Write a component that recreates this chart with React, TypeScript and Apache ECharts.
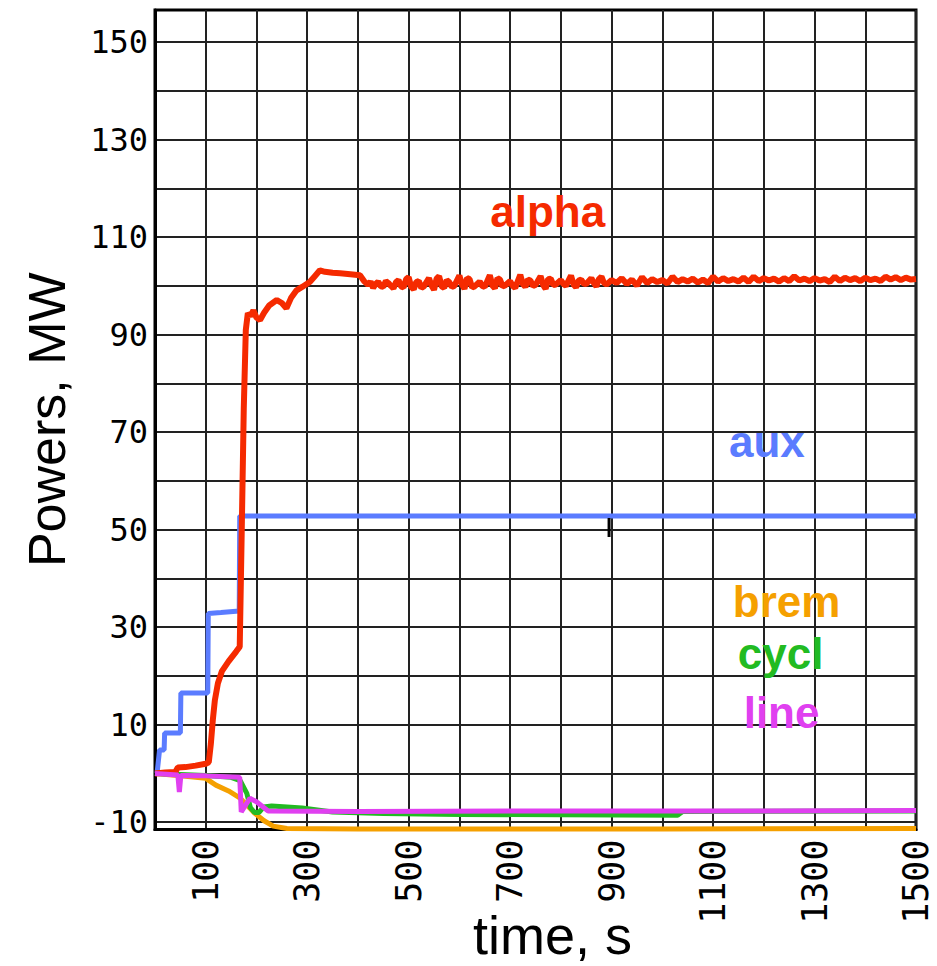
import React, { useEffect, useRef } from "react";
import * as echarts from "echarts";

// time (s), power (MW)
const alphaData: [number, number][] = [
  [0, 0], [20, 0.2], [40, 0.3], [45, 1.2], [60, 1.3], [80, 1.6], [100, 2.0], [106, 2.3],
  [110, 6], [114, 11], [118, 15], [124, 18.5], [132, 21], [145, 23], [160, 25], [167, 26],
  [171, 50], [175, 75], [179, 91], [183, 94.4], [188, 93.8], [194, 95.0], [200, 93.5],
  [207, 93.0], [215, 94.5], [225, 96.0], [240, 97.1], [250, 96.5], [259, 95.4], [268, 97.5],
  [279, 99.1], [290, 99.8], [305, 100.8], [315, 102.0], [325, 103.2], [335, 102.9],
  [350, 102.7], [365, 102.6], [385, 102.4], [404, 102.2], [412, 101.0],
  [420, 100.2], [425, 100.9], [430, 99.6], [435, 100.4], [440, 100.9], [445, 99.9], [450, 99.8],
  [455, 101.0], [460, 100.6], [465, 100.0], [470, 99.5], [475, 100.8],
  [480, 101.2], [485, 99.9], [490, 99.7], [495, 101.4], [500, 101.8], [505, 99.8], [510, 99.3],
  [515, 100.8], [520, 101.0], [525, 99.6], [530, 99.9],
  [540, 101.6], [545, 100.1], [550, 99.2], [555, 101.5], [560, 102.0], [565, 99.9], [570, 99.6],
  [575, 101.2], [580, 100.8], [585, 99.8], [590, 100.0],
  [600, 102.1], [605, 100.3], [610, 99.4], [615, 101.6], [620, 101.4], [625, 99.7], [630, 99.9],
  [640, 100.9], [645, 100.0], [650, 99.8],
  [660, 102.2], [665, 100.1], [670, 99.5], [675, 101.6], [680, 101.3], [685, 99.9], [690, 100.1],
  [700, 101.0], [705, 100.0], [710, 99.6],
  [720, 102.3], [725, 100.4], [730, 99.8], [735, 101.3], [740, 101.1], [745, 100.0], [750, 100.2],
  [760, 102.0], [765, 100.2], [770, 99.4], [775, 101.4],
  [780, 101.5], [785, 100.2], [790, 100.3], [800, 101.2], [805, 100.4], [810, 100.0],
  [820, 102.1], [825, 100.3], [830, 99.7], [835, 101.1],
  [840, 101.3], [845, 100.5], [850, 100.4], [860, 101.6], [865, 100.6], [870, 99.9], [875, 101.4],
  [880, 101.9], [885, 100.6], [890, 100.3],
  [900, 101.2], [910, 100.6], [920, 101.6], [930, 100.4], [940, 101.3], [950, 100.1],
  [960, 101.8], [970, 100.6], [980, 101.4], [990, 100.8], [1000, 101.2], [1010, 100.5],
  [1020, 101.9], [1030, 100.8], [1040, 101.4], [1050, 100.9], [1060, 101.5], [1070, 100.7],
  [1080, 101.3], [1090, 100.6], [1100, 101.9], [1110, 100.9], [1120, 101.6], [1130, 101.0],
  [1140, 101.4], [1150, 100.9], [1160, 101.7], [1170, 100.8], [1180, 101.9], [1190, 101.0],
  [1200, 101.6], [1210, 101.1], [1220, 101.5], [1230, 100.9], [1240, 101.6], [1250, 101.0],
  [1260, 102.0], [1270, 101.1], [1280, 101.5], [1290, 101.0], [1300, 101.6], [1310, 101.1],
  [1320, 101.4], [1330, 100.8], [1340, 101.9], [1350, 101.0], [1360, 101.7], [1370, 101.2],
  [1380, 101.6], [1390, 101.0], [1400, 101.7], [1410, 101.2], [1420, 101.5], [1430, 101.0],
  [1440, 101.9], [1450, 101.3], [1460, 101.8], [1470, 101.2], [1480, 101.7], [1490, 101.3],
  [1500, 101.4],
];

const auxData: [number, number][] = [
  [0, 0], [4, 0], [9, 4.8], [18, 4.8], [19, 8.3], [50, 8.3], [51, 16.5], [104, 16.5],
  [105, 32.8], [130, 33.0], [166, 33.3], [167, 52.8], [1500, 52.8],
];

const bremData: [number, number][] = [
  [0, 0], [50, -0.5], [100, -1.0], [120, -2.4], [145, -3.6], [167, -5.0], [182, -6.6],
  [197, -8.2], [215, -9.7], [233, -10.8], [260, -11.3], [400, -11.4], [700, -11.4],
  [1000, -11.4], [1500, -11.3],
];

const cyclData: [number, number][] = [
  [0, 0], [100, -0.4], [150, -0.8], [168, -1.5], [181, -4.1], [188, -7.0], [196, -8.0],
  [205, -8.0], [214, -6.9], [230, -6.7], [290, -7.1], [350, -7.9], [450, -8.2],
  [600, -8.4], [800, -8.5], [1030, -8.6], [1040, -7.8], [1500, -7.7],
];

const lineData: [number, number][] = [
  [0, 0], [45, -0.3], [48, -3.8], [51, -0.4], [100, -0.5], [167, -0.8], [170, -7.9],
  [187, -5.1], [200, -5.8], [223, -7.7], [400, -7.8], [800, -7.7], [1200, -7.7], [1500, -7.6],
];

const cursorMark: [number, number][] = [[895, 52.4], [895, 48.5]];

const xLabelValues = [100, 300, 500, 700, 900, 1100, 1300, 1500];
const yLabelValues = [-10, 10, 30, 50, 70, 90, 110, 130, 150];
const yGridValues = [-10, 0, 10, 20, 30, 40, 50, 60, 70, 80, 90, 100, 110, 120, 130, 140, 150];

// series label anchors [time, power]
const labelSpots: { name: string; at: [number, number]; color: string }[] = [
  { name: "alpha", at: [774, 115.2], color: "#f52a00" },
  { name: "aux", at: [1206, 68.1], color: "#5b7cff" },
  { name: "brem", at: [1245, 35.2], color: "#f5a000" },
  { name: "cycl", at: [1233, 24.7], color: "#22bb22" },
  { name: "line", at: [1235, 12.6], color: "#e040f0" },
];

const COLORS = {
  alpha: "#f52a00",
  aux: "#5b7cff",
  brem: "#f5a000",
  cycl: "#22bb22",
  line: "#e040f0",
};

export default function App() {
  const ref = useRef<HTMLDivElement>(null);
  useEffect(() => {
    const chart = echarts.init(ref.current!, null, { renderer: "svg" });
    const mk = (name: string, data: [number, number][], color: string, z: number, width = 5) => ({
      name,
      type: "line",
      data,
      showSymbol: false,
      symbol: "none",
      clip: false,
      z,
      lineStyle: { color, width },
      itemStyle: { color },
    });
    chart.setOption({
      animation: false,
      backgroundColor: "#fff",
      grid: {
        left: 155,
        right: 21,
        top: 10,
        bottom: 136.5,
        show: true,
        borderColor: "#000",
        borderWidth: 3,
        containLabel: false,
        outerBoundsMode: "none",
      },
      xAxis: {
        type: "value",
        min: 0,
        max: 1500,
        interval: 100,
        name: "time, s",
        nameLocation: "middle",
        nameGap: 78,
        nameMoveOverlap: false,
        nameTextStyle: {
          fontFamily: "Liberation Sans",
          fontSize: 54,
          color: "#000",
          padding: [0, 0, 0, 34],
        },
        axisLine: { show: true, onZero: false, lineStyle: { color: "#000", width: 3 } },
        axisTick: { show: false },
        axisLabel: {
          customValues: xLabelValues,
          formatter: (v: number) => String(v),
          rotate: 90,
          margin: 10,
          fontFamily: "DejaVu Sans Mono",
          fontSize: 35,
          color: "#000",
        },
        splitLine: { show: true, lineStyle: { color: "#222", width: 2 } },
      },
      yAxis: {
        type: "value",
        min: -11.5,
        max: 156.6,
        name: "Powers, MW",
        nameLocation: "middle",
        nameGap: 82,
        nameRotate: 90,
        nameTextStyle: {
          fontFamily: "Liberation Sans",
          fontSize: 52,
          color: "#000",
        },
        axisLine: { show: true, onZero: false, lineStyle: { color: "#000", width: 3 } },
        axisTick: { show: false, customValues: yGridValues },
        axisLabel: {
          customValues: yLabelValues,
          formatter: (v: number) => String(v),
          margin: 7,
          fontFamily: "DejaVu Sans Mono",
          fontSize: 32,
          color: "#000",
        },
        splitLine: { show: true, lineStyle: { color: "#222", width: 2 } },
      },
      series: [
        mk("brem", bremData, COLORS.brem, 3),
        mk("cycl", cyclData, COLORS.cycl, 4),
        mk("aux", auxData, COLORS.aux, 5),
        {
          ...mk("alpha", alphaData, COLORS.alpha, 6, 6),
          markPoint: {
            symbol: "circle",
            symbolSize: 1,
            itemStyle: { color: "transparent" },
            data: labelSpots.map((s) => ({
              name: s.name,
              coord: s.at,
              label: {
                show: true,
                position: "inside",
                formatter: s.name,
                fontFamily: "Liberation Sans",
                fontWeight: "bold",
                fontSize: 44,
                color: s.color,
              },
            })),
          },
        },
        mk("line", lineData, COLORS.line, 7),
        {
          name: "cursor",
          type: "line",
          data: cursorMark,
          showSymbol: false,
          symbol: "none",
          z: 8,
          lineStyle: { color: "#000", width: 3 },
        },
      ],
    });
    return () => chart.dispose();
  }, []);
  return (
    <div
      ref={ref}
      style={{ position: "absolute", left: 0, top: 0, width: 937, height: 966 }}
    />
  );
}
